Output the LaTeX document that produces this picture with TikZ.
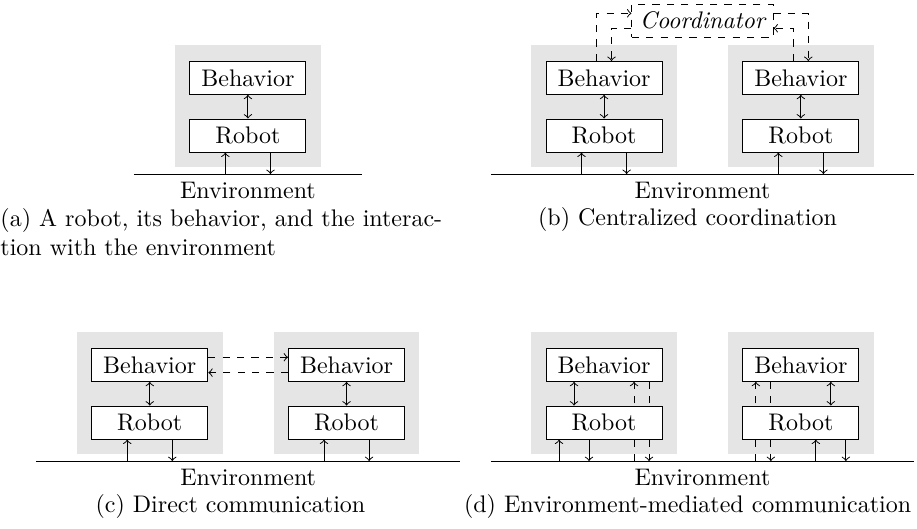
\documentclass[tikz,border=0pt]{standalone}
\usepackage{amsmath}
\usetikzlibrary{positioning}

\tikzset{
  unit/.style={fill=black!10,minimum width=60.7pt,minimum height=50.7pt,inner sep=0pt},
  box/.style={draw,fill=white,minimum width=1.7cm},
  envtext/.style={anchor=base,inner sep=0pt},
  caption/.style={anchor=base,inner sep=0pt},
  msg/.style={dashed,->},
}

\begin{document}
\begin{tikzpicture}[x=1pt,y=1pt]
  \useasboundingbox (0,0) rectangle (382.1,220.4);

  % (a) one robot
  \node[unit] (u1) at (103.3,176.3) {};
  \node[box,below=6.85pt of u1.north] (b1) {Behavior};
  \node[box,below=9.86pt of b1] (r1) {Robot};
  \draw (55.8,147.9) coordinate (ea1) -- (150.7,147.9) coordinate (ea2);
  \draw[<->] (b1) -- (r1);
  \draw[->] ([xshift=-9.4pt]r1.south |- ea1) -- ([xshift=-9.4pt]r1.south);
  \draw[->] ([xshift=9.4pt]r1.south) -- ([xshift=9.4pt]r1.south |- ea1);
  \node[envtext] (envA) at (103.3,137.5) {Environment};
  \node[anchor=north west,align=left,inner sep=0pt] (capA) at (0,133.8)
    {(a) A robot, its behavior, and the interac-\\tion with the environment};

  % (b) centralized coordination
  \node[unit] (u2) at (251.7,176.3) {};
  \node[unit] (u3) at (333.7,176.3) {};
  \node[box,below=6.85pt of u2.north] (b2) {Behavior};
  \node[box,below=9.86pt of b2] (r2) {Robot};
  \node[box,below=6.85pt of u3.north] (b3) {Behavior};
  \node[box,below=9.86pt of b3] (r3) {Robot};
  \node[box,dashed,font=\itshape] (coord) at (292.7,211.75) {Coordinator};
  \draw (204.5,147.9) coordinate (eb1) -- (380.9,147.9) coordinate (eb2);
  \draw[<->] (b2) -- (r2);
  \draw[<->] (b3) -- (r3);
  \draw[->] ([xshift=-9.4pt]r2.south |- eb1) -- ([xshift=-9.4pt]r2.south);
  \draw[->] ([xshift=9.4pt]r2.south) -- ([xshift=9.4pt]r2.south |- eb1);
  \draw[->] ([xshift=-9.4pt]r3.south |- eb1) -- ([xshift=-9.4pt]r3.south);
  \draw[->] ([xshift=9.4pt]r3.south) -- ([xshift=9.4pt]r3.south |- eb1);
  \draw[msg] ([xshift=-3.1pt]b2.north) |- ([yshift=3.1pt]coord.west);
  \draw[msg] ([yshift=-3.1pt]coord.west) -| ([xshift=3.1pt]b2.north);
  \draw[msg] ([yshift=3.1pt]coord.east) -| ([xshift=3.1pt]b3.north);
  \draw[msg] ([xshift=-3.1pt]b3.north) |- ([yshift=-3.1pt]coord.east);
  \node[envtext] (envB) at (292.7,137.5) {Environment};
  \node[caption] (capB) at (286.5,126.3) {(b) Centralized coordination};

  % (c) direct communication
  \node[unit] (u4) at (62.4,56.7) {};
  \node[unit] (u5) at (144.4,56.7) {};
  \node[box,below=6.85pt of u4.north] (b4) {Behavior};
  \node[box,below=9.86pt of b4] (r4) {Robot};
  \node[box,below=6.85pt of u5.north] (b5) {Behavior};
  \node[box,below=9.86pt of b5] (r5) {Robot};
  \draw (15.0,28.3) coordinate (ec1) -- (191.8,28.3) coordinate (ec2);
  \draw[<->] (b4) -- (r4);
  \draw[<->] (b5) -- (r5);
  \draw[->] ([xshift=-9.4pt]r4.south |- ec1) -- ([xshift=-9.4pt]r4.south);
  \draw[->] ([xshift=9.4pt]r4.south) -- ([xshift=9.4pt]r4.south |- ec1);
  \draw[->] ([xshift=-9.4pt]r5.south |- ec1) -- ([xshift=-9.4pt]r5.south);
  \draw[->] ([xshift=9.4pt]r5.south) -- ([xshift=9.4pt]r5.south |- ec1);
  \draw[msg] ([yshift=3.2pt]b4.east) -- ([yshift=3.2pt]b5.west);
  \draw[msg] ([yshift=-3.2pt]b5.west) -- ([yshift=-3.2pt]b4.east);
  \node[envtext] (envC) at (103.4,17.9) {Environment};
  \node[caption] (capC) at (96.0,6.7) {(c) Direct communication};

  % (d) environment-mediated communication
  \node[unit] (u6) at (251.7,56.7) {};
  \node[unit] (u7) at (333.7,56.7) {};
  \draw (204.5,28.3) coordinate (ed1) -- (380.9,28.3) coordinate (ed2);
  \node[box,below=6.85pt of u6.north] (b6) {Behavior};
  \node[box,below=6.85pt of u7.north] (b7) {Behavior};
  % traces through the environment, drawn before the robots cover them
  \draw[msg] ([xshift=12.5pt]b6.south |- ed1) -- ([xshift=12.5pt]b6.south);
  \draw[msg] ([xshift=18.75pt]b6.south) -- ([xshift=18.75pt]b6.south |- ed1);
  \draw[msg] ([xshift=-18.75pt]b7.south |- ed1) -- ([xshift=-18.75pt]b7.south);
  \draw[msg] ([xshift=-12.5pt]b7.south) -- ([xshift=-12.5pt]b7.south |- ed1);
  \node[box,below=9.86pt of b6] (r6) {Robot};
  \node[box,below=9.86pt of b7] (r7) {Robot};
  \draw[<->] ([xshift=-12.5pt]b6.south) -- ([xshift=-12.5pt]r6.north);
  \draw[<->] ([xshift=12.5pt]b7.south) -- ([xshift=12.5pt]r7.north);
  \draw[->] ([xshift=-18.75pt]r6.south |- ed1) -- ([xshift=-18.75pt]r6.south);
  \draw[->] ([xshift=-6.25pt]r6.south) -- ([xshift=-6.25pt]r6.south |- ed1);
  \draw[->] ([xshift=6.25pt]r7.south |- ed1) -- ([xshift=6.25pt]r7.south);
  \draw[->] ([xshift=18.75pt]r7.south) -- ([xshift=18.75pt]r7.south |- ed1);
  \node[envtext] (envD) at (292.7,17.9) {Environment};
  \node[caption] (capD) at (286.5,6.7) {(d) Environment-mediated communication};
\end{tikzpicture}
\end{document}
